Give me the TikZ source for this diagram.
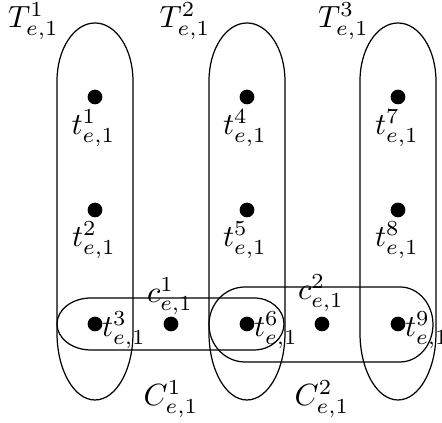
\documentclass[tikz,border=0pt]{standalone}
\begin{document}
\begin{tikzpicture}[x=0.326pt,y=-0.326pt,
  dot/.style={circle,fill=black,inner sep=0pt,minimum size=4.8pt},
  lbl/.style={inner sep=0pt},
  set/.style={draw=black,line width=0.4pt},
  tshape/.pic={\draw[set] (-38,81) .. controls (-38,49) and (-21,23) .. (0,23)
     .. controls (21,23) and (38,49) .. (38,81) -- (38,333)
     .. controls (38,370) and (21,400) .. (0,400)
     .. controls (-21,400) and (-38,370) .. (-38,333) -- cycle;}]
\useasboundingbox (0,0) rectangle (442,423);
% vertical sets
\pic at (95,0) {tshape};
\pic at (247,0) {tshape};
\pic at (398,0) {tshape};
% horizontal sets
\draw[set] (91,298) -- (254,298) .. controls (270.6,298) and (284,309.6) .. (284,324)
  .. controls (284,338.4) and (270.6,350) .. (254,350) -- (91,350)
  .. controls (72.2,350) and (57,338.4) .. (57,324)
  .. controls (57,309.6) and (72.2,298) .. (91,298) -- cycle;
\draw[set] (245,287) -- (400,287) .. controls (418.2,287) and (433,303.8) .. (433,324.5)
  .. controls (433,345.2) and (418.2,362) .. (400,362) -- (245,362)
  .. controls (225.1,362) and (209,345.2) .. (209,324.5)
  .. controls (209,303.8) and (225.1,287) .. (245,287) -- cycle;
% points
\node[dot] (t1) at (95,97) {};
\node[dot] (t2) at (95,210) {};
\node[dot] (t3) at (95,324) {};
\node[dot] (t4) at (247,97) {};
\node[dot] (t5) at (247,210) {};
\node[dot] (t6) at (247,324) {};
\node[dot] (t7) at (398,97) {};
\node[dot] (t8) at (398,210) {};
\node[dot] (t9) at (398,324) {};
\node[dot] (c1) at (171,324) {};
\node[dot] (c2) at (322,324) {};
% labels
\node[lbl] (lT1) at (33.5,21) {$T^1_{e,1}$};
\node[lbl] (lT2) at (185,21) {$T^2_{e,1}$};
\node[lbl] (lT3) at (343.5,21) {$T^3_{e,1}$};
\node[lbl] (lt1) at (93.5,128) {$t^1_{e,1}$};
\node[lbl] (lt4) at (245,128) {$t^4_{e,1}$};
\node[lbl] (lt7) at (397,128) {$t^7_{e,1}$};
\node[lbl] (lt2) at (94,240) {$t^2_{e,1}$};
\node[lbl] (lt5) at (245,240) {$t^5_{e,1}$};
\node[lbl] (lt8) at (397,240) {$t^8_{e,1}$};
\node[lbl] (lt3) at (124,330) {$t^3_{e,1}$};
\node[lbl] (lt6) at (276,330) {$t^6_{e,1}$};
\node[lbl] (lt9) at (427,330) {$t^9_{e,1}$};
\node[lbl] (lc1) at (170,296) {$c^1_{e,1}$};
\node[lbl] (lc2) at (321,293) {$c^2_{e,1}$};
\node[lbl] (lC1) at (171,399) {$C^1_{e,1}$};
\node[lbl] (lC2) at (322,399) {$C^2_{e,1}$};
\end{tikzpicture}
\end{document}
